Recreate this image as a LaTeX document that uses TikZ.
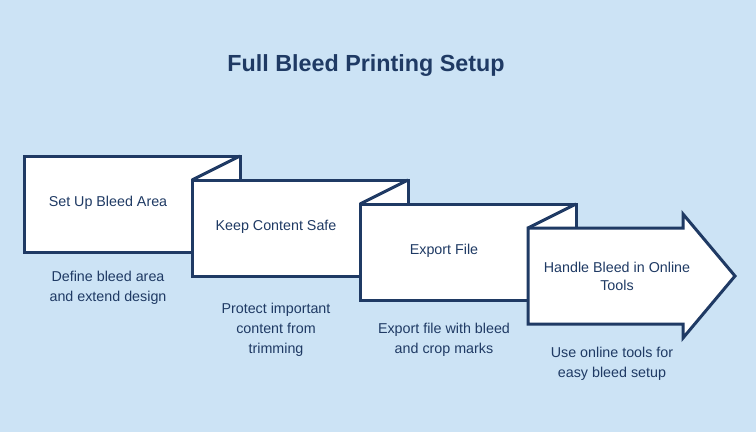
\documentclass[tikz,border=0pt]{standalone}
\usepackage{fontspec}
\setmainfont{Liberation Sans}
\definecolor{bg}{HTML}{CCE3F5}
\definecolor{dk}{HTML}{1F3A64}
\begin{document}
\begin{tikzpicture}[x=1pt,y=-1pt,
  sh/.style={draw=dk,line width=3pt,fill=white,line join=miter},
  lab/.style={text=dk,font=\fontsize{14.3}{18}\selectfont,align=center},
  desc/.style={text=dk,font=\fontsize{14.3}{20}\selectfont,align=center}]
\fill[bg] (0,0) rectangle (756,432);
\useasboundingbox (0,0) rectangle (756,432);
\node[text=dk,font=\fontsize{23.3}{26}\selectfont\bfseries] (title) at (366,66) {Full Bleed Printing Setup};
\foreach \i in {0,1,2}{
  \pgfmathsetmacro\L{24+168*\i}
  \pgfmathsetmacro\T{156+24*\i}
  \draw[sh] (\L,\T) rectangle (\L+216,\T+96);
  \draw[sh] (\L+216,\T) -- (\L+168,\T+24);
}
\draw[sh] (528,228) -- (683,228) -- (683,214) -- (735,276) -- (683,338) -- (683,324) -- (528,324) -- cycle;
\node[lab] (a) at (108,203) {Set Up Bleed Area};
\node[lab] (b) at (276,227) {Keep Content Safe};
\node[lab] (c) at (444,251) {Export File};
\node[lab] (d) at (617,276) {Handle Bleed in Online\\Tools};
\node[desc] (da) at (108,288) {Define bleed area\\and extend design};
\node[desc] (db) at (276,330) {Protect important\\content from\\trimming};
\node[desc] (dc) at (444,340) {Export file with bleed\\and crop marks};
\node[desc] (dd) at (612,364) {Use online tools for\\easy bleed setup};
\end{tikzpicture}
\end{document}
